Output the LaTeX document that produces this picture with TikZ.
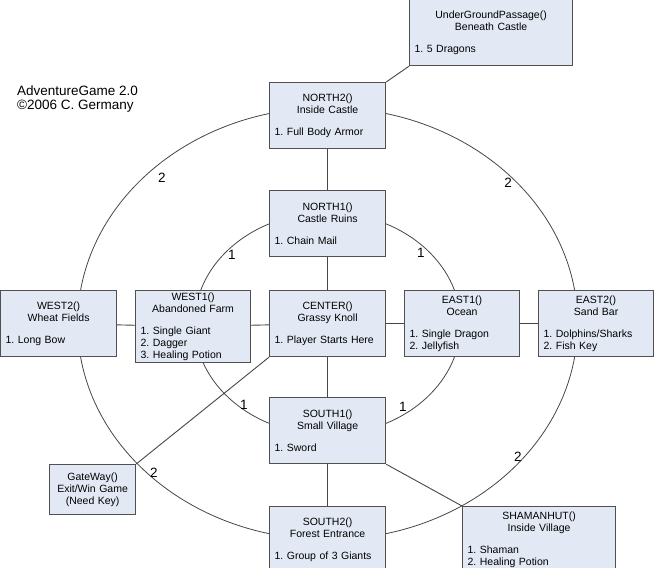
\documentclass[tikz,border=0pt]{standalone}
\usepackage{fontspec}
\setmainfont{Liberation Sans}
\usepackage{xcolor}
\usepackage{tikz}
\usetikzlibrary{backgrounds}
\frenchspacing

\definecolor{boxfill}{RGB}{227,233,244}
\definecolor{boxline}{RGB}{80,80,80}
\definecolor{wire}{RGB}{70,70,70}

\tikzset{
  room/.style={draw=boxline, fill=boxfill, line width=1.2pt, rectangle,
    anchor=north west, inner xsep=5pt, inner ysep=2pt, minimum height=66pt,
    text width=#1, align=left, font=\fontsize{10.5}{12}\selectfont},
  gatebox/.style={room=#1, align=center, minimum height=50pt},
  link/.style={draw=wire, line width=0.9pt},
  ring/.style={draw=wire, line width=0.8pt},
  steps/.style={font=\fontsize{13.5}{14}\selectfont, inner sep=0pt}
}

\newcommand{\roomhead}[2]{{\centering #1\\#2\par}\vspace{10pt}}

\begin{document}
\begin{tikzpicture}[x=1pt,y=-1pt]
  \useasboundingbox (0,0) rectangle (654,568);

  \node[anchor=north west, inner sep=0pt, align=left, font=\fontsize{13.5}{14}\selectfont]
    (title) at (17,86) {AdventureGame 2.0\\©2006 C. Germany};

  \node[room=153pt] (ugp) at (409,-1) {\roomhead{UnderGroundPassage()}{Beneath Castle}1. 5 Dragons};
  \node[room=106pt] (north2) at (269,82) {\roomhead{NORTH2()}{Inside Castle}1. Full Body Armor};
  \node[room=106pt] (north1) at (269,190) {\roomhead{NORTH1()}{Castle Ruins}1. Chain Mail};

  \node[room=106pt] (west2) at (0,290) {\roomhead{WEST2()}{Wheat Fields}1. Long Bow};
  \node[room=105pt] (west1) at (135,290) {\roomhead{WEST1()}{Abandoned Farm}1. Single Giant\\2. Dagger\\3. Healing Potion};
  \node[room=106pt] (knoll) at (269,290) {\roomhead{CENTER()}{Grassy Knoll}1. Player Starts Here};
  \node[room=105pt] (east1) at (404,290) {\roomhead{EAST1()}{Ocean}1. Single Dragon\\2. Jellyfish};
  \node[room=105pt] (east2) at (538,290) {\roomhead{EAST2()}{Sand Bar}1. Dolphins/Sharks\\2. Fish Key};

  \node[room=106pt] (south1) at (269,397) {\roomhead{SOUTH1()}{Small Village}1. Sword};
  \node[room=106pt] (south2) at (269,506) {\roomhead{SOUTH2()}{Forest Entrance}1. Group of 3 Giants};
  \node[room=143pt] (shaman) at (462,506) {\roomhead{SHAMANHUT()}{Inside Village}1. Shaman\\2. Healing Potion};
  \node[gatebox=76pt] (gate) at (49,464) {GateWay()\\Exit/Win Game\\(Need Key)};

  \begin{scope}[on background layer]
    \draw[ring] (knoll.center) ellipse [x radius=133pt, y radius=111pt];
    \draw[ring] (knoll.center) ellipse [x radius=250pt, y radius=216pt];
  \end{scope}

  \draw[link] (north2) -- (north1);
  \draw[link] (north1) -- (knoll);
  \draw[link] (knoll) -- (south1);
  \draw[link] (south1) -- (south2);
  \draw[link] (west2) -- (west1);
  \draw[link] (west1) -- (knoll);
  \draw[link] (knoll) -- (east1);
  \draw[link] (east1) -- (east2);
  \draw[link] (north2.north east) -- (ugp.south west);
  \draw[link] (south1.south east) -- (shaman.north west);
  \draw[link] (gate.north east) -- (knoll.south west);

  \node[steps] (n-out-nw) at (162,178) {2};
  \node[steps] (n-out-ne) at (508,183) {2};
  \node[steps] (n-in-nw) at (232,255) {1};
  \node[steps] (n-in-ne) at (421,253) {1};
  \node[steps] (n-in-sw) at (244,405) {1};
  \node[steps] (n-in-se) at (403,407) {1};
  \node[steps] (n-out-sw) at (154,473) {2};
  \node[steps] (n-out-se) at (518,457) {2};
\end{tikzpicture}
\end{document}
